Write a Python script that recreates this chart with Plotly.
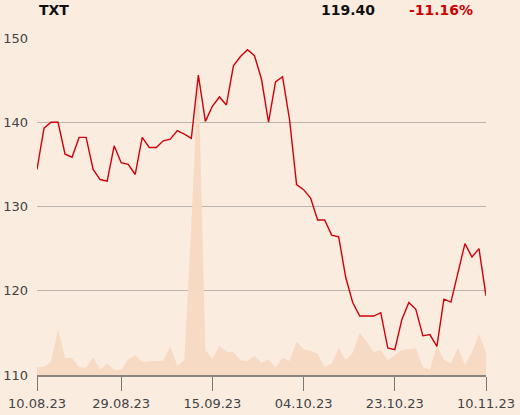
import plotly.graph_objects as go

# ---- data ----
price = [134.40, 139.3, 140.0, 140.0, 136.2, 135.85, 138.2, 138.2, 134.4, 133.2,
         133.0, 137.2, 135.2, 135.0, 133.8, 138.2, 137.0, 137.0, 137.8, 138.0,
         139.0, 138.6, 138.1, 145.6, 140.1, 141.9, 143.0, 142.05, 146.7, 147.8,
         148.6, 147.9, 145.1, 140.0, 144.8, 145.4, 140.3, 132.6, 132.0, 131.0,
         128.4, 128.4, 126.6, 126.4, 121.6, 118.6, 117.0, 117.0, 117.0, 117.4,
         113.2, 113.0, 116.55, 118.6, 117.8, 114.65, 114.8, 113.4, 119.0, 118.65,
         122.05, 125.6, 124.0, 125.0, 119.40]

volume = [77, 83, 130, 460, 170, 170, 77, 73, 177, 53,
          113, 53, 50, 157, 197, 127, 137, 140, 143, 287,
          90, 150, 1500, 3070, 250, 160, 290, 233, 230, 147,
          140, 193, 123, 157, 73, 173, 140, 333, 257, 240,
          213, 80, 113, 270, 150, 223, 423, 333, 230, 250,
          147, 200, 250, 257, 267, 83, 50, 297, 153, 117,
          273, 100, 230, 410, 227]

tick_index = [0, 12, 25, 38, 51, 64]
tick_labels = ["10.08.23", "29.08.23", "15.09.23", "04.10.23", "23.10.23", "10.11.23"]

symbol = "TXT"
last_price = "119.40"
change = "-11.16%"

x = list(range(len(price)))

BG = "#FBECE0"
FONT = "DejaVu Sans"

fig = go.Figure()
fig.add_trace(go.Scatter(
    x=x, y=volume, mode="lines", fill="tozeroy",
    line=dict(width=0, color="#F7DAC3"), fillcolor="#F7DAC3",
    yaxis="y", hoverinfo="skip", showlegend=False))
fig.add_trace(go.Scatter(
    x=x, y=price, mode="lines",
    line=dict(width=1.4, color="#D0000A"),
    yaxis="y2", showlegend=False))

fig.update_layout(
    width=520, height=415,
    margin=dict(l=37, r=34, t=38, b=40, autoexpand=False),
    paper_bgcolor=BG, plot_bgcolor=BG,
    font=dict(family=FONT, size=13, color="#444444"),
    xaxis=dict(range=[0, 64], tickvals=tick_index, ticktext=tick_labels,
               automargin=False,
               showgrid=False, zeroline=False, showline=True,
               linecolor="#8A8580", linewidth=1.5,
               ticks="outside", ticklen=14, tickcolor="#777777", tickwidth=1,
               ticklabelstandoff=2,
               tickfont=dict(size=13, color="#444444")),
    yaxis=dict(range=[0, 3370], showgrid=False, zeroline=False,
               showticklabels=False, visible=False, automargin=False),
    yaxis2=dict(range=[110, 150], overlaying="y", side="left",
                automargin=False,
                tickvals=[110, 120, 130, 140, 150],
                showgrid=True, gridcolor="#BAB4AE", gridwidth=1,
                zeroline=False, showline=False, ticks="",
                ticklabelstandoff=8,
                tickfont=dict(size=13, color="#444444")),
    annotations=[
        dict(text="<b>%s</b>" % symbol, xref="paper", yref="paper",
             x=0, y=1.083, xanchor="left", yanchor="middle", showarrow=False,
             font=dict(family=FONT, size=14, color="#111111")),
        dict(text="<b>%s</b>" % last_price, xref="paper", yref="paper",
             x=0.6927, y=1.083, xanchor="center", yanchor="middle", showarrow=False,
             font=dict(family=FONT, size=14, color="#111111")),
        dict(text="<b>%s</b>" % change, xref="paper", yref="paper",
             x=0.8998, y=1.083, xanchor="center", yanchor="middle", showarrow=False,
             font=dict(family=FONT, size=14, color="#CC0000")),
    ],
)

fig.write_html("out.html",
               config={"displayModeBar": False},
               post_script="document.body.style.margin='0';"
                           "document.body.style.overflow='hidden';")
